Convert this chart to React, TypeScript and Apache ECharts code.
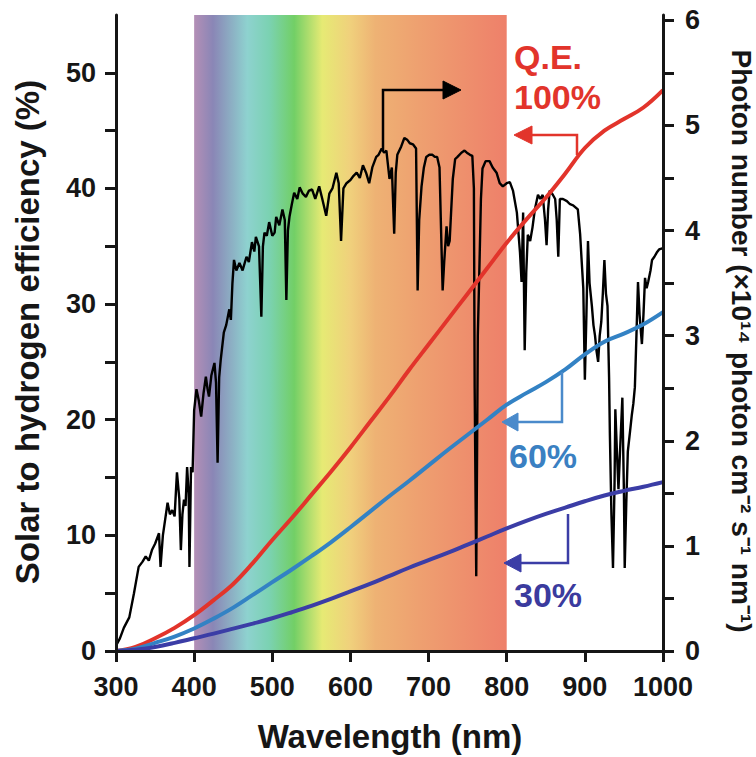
import React, { useEffect, useRef } from 'react';
import * as echarts from 'echarts';

// ---------- data ----------
const wavelengthMin = 300;
const wavelengthMax = 1000;
const leftTickValues = [0, 5, 10, 15, 20, 25, 30, 35, 40, 45, 50];
const leftLabelValues = [0, 10, 20, 30, 40, 50];
const rightTickValues = [0, 0.5, 1, 1.5, 2, 2.5, 3, 3.5, 4, 4.5, 5, 5.5, 6];
const rightLabelValues = [0, 1, 2, 3, 4, 5, 6];

// photon number spectrum (x10^14 photon cm^-2 s^-1 nm^-1) vs wavelength (nm)
const photonSpectrum: [number, number][] = [
  [300, 0.05], [305, 0.12], [310, 0.22], [317, 0.32], [323, 0.55], [329, 0.8], [334, 0.85], [338, 0.9],
  [342, 0.86], [346, 0.96], [350, 1.02], [355, 1.12], [357, 0.8], [360, 1.1], [366, 1.41], [369, 1.3],
  [372, 1.34], [375, 1.28], [378, 1.7], [381, 1.45], [383, 0.96], [385, 1.3], [387, 1.44], [389, 1.38],
  [391, 1.75], [393, 1.5], [394, 0.8], [396, 1.75], [398, 1.7], [400, 2.29], [403, 2.49], [406, 2.38],
  [409, 2.23], [412, 2.45], [415, 2.61], [417, 2.5], [419, 2.42], [422, 2.62], [426, 2.74], [428, 2.55],
  [430, 1.79], [432, 2.6], [434, 2.77], [438, 3.03], [441, 3.1], [445, 3.25], [447, 3.15], [449, 3.5],
  [451, 3.72], [454, 3.62], [458, 3.69], [462, 3.62], [467, 3.75], [470, 3.7], [474, 3.89], [477, 3.8],
  [479, 3.94], [483, 3.85], [486, 3.18], [488, 3.85], [490, 3.98], [493, 3.95], [496, 4.08], [500, 3.95],
  [503, 3.98], [505, 4.13], [509, 4.05], [513, 4.2], [516, 4.1], [518, 3.34], [520, 4.0], [522, 4.13],
  [525, 4.25], [528, 4.36], [532, 4.3], [535, 4.41], [539, 4.35], [543, 4.32], [547, 4.38], [551, 4.39],
  [555, 4.3], [560, 4.42], [564, 4.3], [569, 4.14], [573, 4.35], [577, 4.4], [582, 4.55], [585, 4.45],
  [588, 3.9], [591, 4.4], [595, 4.45], [600, 4.48], [604, 4.52], [608, 4.55], [612, 4.5], [616, 4.62],
  [620, 4.55], [624, 4.45], [628, 4.6], [633, 4.7], [636, 4.72], [640, 4.78], [643, 4.74], [646, 4.76],
  [650, 4.49], [653, 4.6], [656, 3.97], [658, 4.55], [660, 4.72], [665, 4.8], [669, 4.88], [673, 4.86],
  [676, 4.83], [680, 4.82], [684, 4.78], [686, 3.43], [688, 4.1], [691, 4.42], [694, 4.6], [697, 4.7],
  [701, 4.72], [705, 4.72], [708, 4.7], [711, 4.7], [714, 4.6], [716, 4.0], [718, 3.43], [720, 3.7],
  [723, 4.04], [725, 3.85], [727, 3.9], [729, 4.2], [731, 4.49], [734, 4.68], [737, 4.7], [742, 4.74],
  [746, 4.76], [749, 4.74], [753, 4.72], [756, 4.71], [758, 4.4], [759, 2.5], [761, 0.71], [762, 1.8],
  [763, 3.0], [765, 3.63], [767, 4.3], [769, 4.59], [773, 4.66], [778, 4.66], [782, 4.6], [787, 4.55],
  [791, 4.45], [795, 4.42], [800, 4.45], [804, 4.46], [808, 4.38], [813, 4.17], [817, 3.79], [819, 3.51],
  [821, 4.17], [823, 2.86], [825, 3.6], [827, 3.96], [830, 3.9], [833, 4.03], [836, 4.2], [840, 4.34],
  [843, 4.3], [846, 4.34], [849, 4.1], [851, 3.86], [853, 4.2], [855, 4.38], [859, 4.34], [862, 4.3],
  [864, 4.1], [866, 3.75], [868, 4.3], [872, 4.3], [877, 4.28], [881, 4.25], [885, 4.24], [888, 4.22],
  [891, 4.2], [894, 3.96], [896, 3.7], [898, 3.45], [900, 2.58], [902, 3.2], [904, 3.9], [906, 3.5],
  [909, 3.28], [911, 3.1], [913, 3.0], [915, 2.85], [917, 2.75], [919, 3.0], [921, 3.13], [923, 3.4],
  [925, 3.72], [927, 3.4], [929, 3.28], [931, 2.6], [932, 2.07], [934, 1.3], [936, 0.79], [938, 1.6],
  [939, 2.3], [941, 1.9], [943, 1.54], [945, 1.9], [948, 2.41], [950, 1.5], [951, 0.79], [953, 1.4],
  [955, 1.9], [958, 2.1], [960, 2.24], [962, 2.35], [964, 2.51], [966, 3.0], [968, 3.51], [970, 3.2],
  [973, 2.92], [975, 3.2], [977, 3.55], [979, 3.45], [981, 3.51], [984, 3.62], [986, 3.72], [989, 3.75],
  [992, 3.79], [995, 3.82], [999, 3.83], [1000, 3.83],
];

// solar-to-hydrogen efficiency (%) for quantum efficiency 100 %, 60 %, 30 %
const sthQE100: [number, number][] = [
  [300, 0], [325, 0.35], [350, 1.1], [375, 2.0], [400, 3.1], [425, 4.4], [450, 5.8], [475, 7.6],
  [500, 9.6], [525, 11.5], [550, 13.5], [575, 15.5], [600, 17.6], [625, 19.8], [650, 22.0], [675, 24.3],
  [700, 26.5], [725, 28.7], [750, 30.9], [775, 33.1], [800, 35.3], [825, 37.3], [850, 39.2], [875, 41.3],
  [900, 43.5], [925, 45.0], [950, 46.0], [975, 47.0], [1000, 48.5],
];
const sthQE60: [number, number][] = [
  [300, 0], [325, 0.2], [350, 0.7], [375, 1.25], [400, 1.95], [425, 2.8], [450, 3.75], [475, 4.85],
  [500, 5.95], [525, 7.05], [550, 8.2], [575, 9.4], [600, 10.7], [625, 12.05], [650, 13.4], [675, 14.7],
  [700, 16.05], [725, 17.4], [750, 18.7], [775, 20.0], [800, 21.3], [825, 22.3], [850, 23.25], [875, 24.35],
  [900, 25.65], [925, 26.75], [950, 27.45], [975, 28.25], [1000, 29.3],
];
const sthQE30: [number, number][] = [
  [300, 0], [325, 0.1], [350, 0.35], [375, 0.7], [400, 1.1], [425, 1.5], [450, 1.93], [475, 2.37],
  [500, 2.83], [525, 3.35], [550, 3.9], [575, 4.5], [600, 5.15], [625, 5.8], [650, 6.5], [675, 7.2],
  [700, 7.85], [725, 8.5], [750, 9.2], [775, 9.9], [800, 10.6], [825, 11.25], [850, 11.85], [875, 12.4],
  [900, 12.95], [925, 13.45], [950, 13.85], [975, 14.2], [1000, 14.6],
];
const visibleBand = [400, 800];

const FONT = 'Liberation Sans, Arial, Helvetica, sans-serif';
const INK = '#161616';
const RED = '#e2342b';
const BLUE = '#3382c4';
const PURPLE = '#3b3da6';

export default function App() {
  const ref = useRef<HTMLDivElement>(null);
  useEffect(() => {
    document.body.style.margin = '0';
    const chart = echarts.init(ref.current!, undefined, { renderer: 'svg' });

    const bandGradient = new echarts.graphic.LinearGradient(0, 0, 1, 0, [
      { offset: 0, color: '#b48fb6' },
      { offset: 0.06, color: '#8a86b6' },
      { offset: 0.17, color: '#8ed2cf' },
      { offset: 0.24, color: '#7bd2b2' },
      { offset: 0.32, color: '#72cf66' },
      { offset: 0.41, color: '#e6ea74' },
      { offset: 0.5, color: '#f0d07c' },
      { offset: 0.58, color: '#eeb274' },
      { offset: 0.72, color: '#eea070' },
      { offset: 1, color: '#ee806a' },
    ]);

    const axisLine = { show: true, lineStyle: { color: INK, width: 3 } };
    const tickStyle = { color: INK, width: 3 };
    const labelStyle = { fontSize: 27, fontWeight: 'bold', color: INK, fontFamily: FONT };

    const arrowLine = (points: number[][], color: string) => ({
      type: 'polyline', shape: { points }, style: { stroke: color, lineWidth: 2.5, fill: 'none' }, z: 20,
    });
    const arrowHead = (points: number[][], color: string) => ({
      type: 'polygon', shape: { points }, style: { fill: color, stroke: color, lineWidth: 1 }, z: 20,
    });
    const label = (text: string, x: number, y: number, color: string) => ({
      type: 'text', x, y, z: 20,
      style: { text, fill: color, fontSize: 34, fontWeight: 'bold', fontFamily: FONT, align: 'left', verticalAlign: 'middle' },
    });

    chart.setOption({
      animation: false,
      grid: { left: 116, right: 93, top: 15, bottom: 106, containLabel: false },
      xAxis: [
        {
          type: 'value', min: wavelengthMin, max: wavelengthMax, interval: 100, z: 10,
          axisLine, axisTick: { show: true, length: 11, lineStyle: tickStyle },
          axisLabel: { ...labelStyle, margin: 22, showMinLabel: true, showMaxLabel: true, formatter: (v: number) => String(v) },
          splitLine: { show: false },
        },
        {
          type: 'value', position: 'top', min: wavelengthMin, max: wavelengthMax, z: 10,
          axisLine, axisTick: { show: false }, axisLabel: { show: false }, splitLine: { show: false },
        },
      ],
      yAxis: [
        {
          type: 'value', min: 0, max: 55, interval: 5, z: 10, position: 'left',
          axisLine, axisTick: { show: true, length: 11, lineStyle: tickStyle, customValues: leftTickValues },
          axisLabel: { ...labelStyle, margin: 20, customValues: leftLabelValues, formatter: (v: number) => (v % 10 === 0 ? String(v) : '') },
          splitLine: { show: false },
        },
        {
          type: 'value', min: 0, max: 6.05, interval: 0.5, z: 10, position: 'right',
          axisLine, axisTick: { show: true, length: 11, lineStyle: tickStyle, customValues: rightTickValues },
          axisLabel: { ...labelStyle, margin: 22, customValues: rightLabelValues, formatter: (v: number) => (Number.isInteger(v) ? String(v) : '') },
          splitLine: { show: false },
        },
      ],
      series: [
        {
          name: 'Photon number', type: 'line', yAxisIndex: 1, data: photonSpectrum, showSymbol: false,
          lineStyle: { color: '#000', width: 2.4 }, emphasis: { disabled: true }, z: 3,
          markArea: {
            silent: true, z: 1, label: { show: false },
            itemStyle: { color: bandGradient, opacity: 1 },
            data: [[{ xAxis: visibleBand[0] }, { xAxis: visibleBand[1] }]],
          },
        },
        { name: 'QE 100%', type: 'line', yAxisIndex: 0, data: sthQE100, showSymbol: false, smooth: 0.4, lineStyle: { color: RED, width: 4 }, emphasis: { disabled: true }, z: 4 },
        { name: 'QE 60%', type: 'line', yAxisIndex: 0, data: sthQE60, showSymbol: false, smooth: 0.4, lineStyle: { color: BLUE, width: 4 }, emphasis: { disabled: true }, z: 4 },
        { name: 'QE 30%', type: 'line', yAxisIndex: 0, data: sthQE30, showSymbol: false, smooth: 0.4, lineStyle: { color: PURPLE, width: 4 }, emphasis: { disabled: true }, z: 4 },
      ],
      graphic: [
        arrowLine([[383, 150], [383, 90], [447, 90]], '#000'),
        arrowHead([[443, 81], [461, 90], [443, 99]], '#000'),
        arrowLine([[577, 155], [577, 135], [528, 135]], RED),
        arrowHead([[532, 126], [514, 135], [532, 144]], RED),
        arrowLine([[562, 372], [562, 422], [514, 422]], '#4a8acb'),
        arrowHead([[518, 413], [502, 422], [518, 431]], '#4a8acb'),
        arrowLine([[568, 514], [568, 563], [518, 563]], PURPLE),
        arrowHead([[521, 554], [504, 563], [521, 572]], PURPLE),
        label('Q.E.', 514, 57, RED),
        label('100%', 514, 97, RED),
        label('60%', 509, 456, '#3a80c2'),
        label('30%', 514, 595, '#3b3b9e'),
        {
          type: 'text', x: 27, y: 332, rotation: Math.PI / 2, z: 20,
          style: { text: 'Solar to hydrogen efficiency (%)', fill: INK, fontSize: 33, fontWeight: 'bold', fontFamily: FONT, align: 'center', verticalAlign: 'middle' },
        },
        {
          type: 'text', x: 741, y: 341, rotation: -Math.PI / 2, z: 20,
          style: { text: 'Photon number (×10¹⁴ photon cm⁻² s⁻¹ nm⁻¹)', fill: INK, fontSize: 28, fontWeight: 'bold', fontFamily: FONT, align: 'center', verticalAlign: 'middle' },
        },
        {
          type: 'text', x: 390, y: 736, z: 20,
          style: { text: 'Wavelength (nm)', fill: INK, fontSize: 33, fontWeight: 'bold', fontFamily: FONT, align: 'center', verticalAlign: 'middle' },
        },
      ],
    });
    return () => chart.dispose();
  }, []);
  return <div ref={ref} style={{ width: 756, height: 757 }} />;
}
